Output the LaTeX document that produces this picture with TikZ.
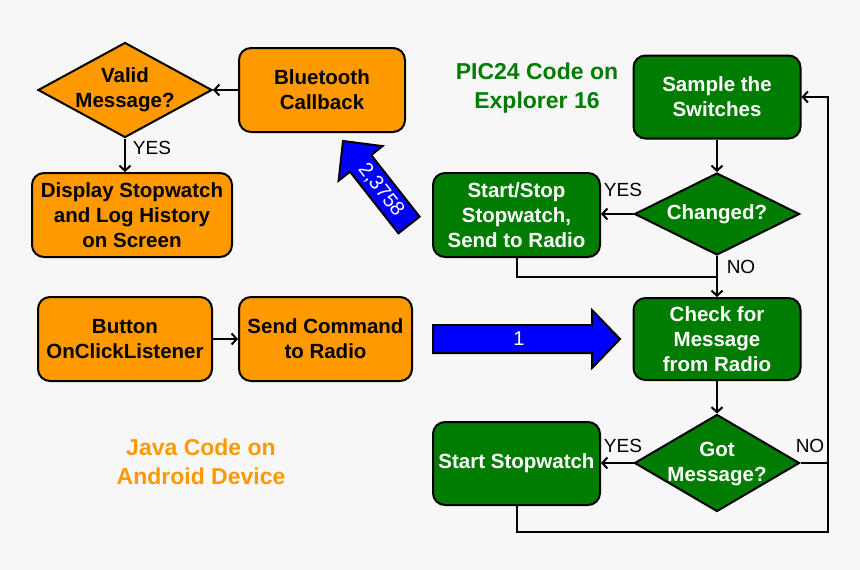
\documentclass[tikz,border=0pt]{standalone}
\usepackage{fontspec}
\setmainfont{Liberation Sans}
\usetikzlibrary{arrows.meta,shapes.geometric}
\definecolor{bg}{HTML}{F7F7F7}
\definecolor{org}{HTML}{FF9900}
\definecolor{grn}{HTML}{007C00}
\definecolor{blu}{HTML}{0000FF}
\begin{document}
\begin{tikzpicture}[x=1pt,y=-1pt,
 box/.style={draw=black, line width=2pt, rounded corners=12pt, align=center, font=\bfseries\fontsize{20.5}{25}\selectfont, inner sep=0pt},
 obox/.style={box, fill=org, text=black},
 gbox/.style={box, fill=grn, text=white},
 dia/.style={draw=black, line width=2pt, shape=diamond, inner sep=0pt},
 dtxt/.style={align=center, font=\bfseries\fontsize{20.5}{25}\selectfont, inner sep=0pt},
 lbl/.style={font=\fontsize{19}{22}\selectfont, inner sep=0pt},
 ttl/.style={align=center, font=\bfseries\fontsize{23}{29}\selectfont, inner sep=0pt},
 conn/.style={line width=2pt, -{Straight Barb[length=5pt,width=11pt]}},
 wire/.style={line width=2pt},
 bigarrow/.style={fill=blu, draw=black, line width=2pt, line join=miter},
 atxt/.style={text=white, font=\fontsize{20}{24}\selectfont, inner sep=0pt}
]
\fill[bg] (0,0) rectangle (860,570);
\useasboundingbox (0,0) rectangle (860,570);

% Android side
\node[dia, fill=org, minimum width=174pt, minimum height=95pt] (valid) at (125,90) {};
\node[dtxt, text=black] (validtxt) at (125,90) {Valid\\Message?};
\node[obox, minimum width=166pt, minimum height=84pt] (bt) at (322,90) {Bluetooth\\Callback};
\node[obox, minimum width=200pt, minimum height=84pt] (disp) at (132,215) {Display Stopwatch\\and Log History\\on Screen};
\node[obox, minimum width=174pt, minimum height=84pt] (btn) at (125,339) {Button\\OnClickListener};
\node[obox, minimum width=173pt, minimum height=84pt] (send) at (325.5,339) {Send Command\\to Radio};
\node[ttl, text=org] (java) at (201,462) {Java Code on\\Android Device};

\draw[conn] (bt.west) -- (valid.east);
\draw[conn] (valid.south) -- (valid.south |- disp.north);
\node[lbl] (yes1) at (152,148) {YES};
\draw[conn] (btn.east) -- (send.west);

% PIC24 side
\node[ttl, text=grn] (pic) at (537,88) {PIC24 Code on\\Explorer 16};
\node[gbox, minimum width=167pt, minimum height=83pt] (sample) at (717,97) {Sample the\\Switches};
\node[dia, fill=grn, minimum width=165pt, minimum height=82pt] (changed) at (717,214) {};
\node[dtxt, text=white] (changedtxt) at (717,214) {Changed?};
\node[gbox, minimum width=167pt, minimum height=84pt] (ss) at (516.5,215) {Start/Stop\\Stopwatch,\\Send to Radio};
\node[gbox, minimum width=167pt, minimum height=82pt] (check) at (717,339) {Check for\\Message\\from Radio};
\node[dia, fill=grn, minimum width=165pt, minimum height=97pt] (got) at (717,463) {};
\node[dtxt, text=white] (gottxt) at (717,464) {Got\\Message?};
\node[gbox, minimum width=167pt, minimum height=83pt] (sw) at (516.5,463.5) {Start Stopwatch};

\coordinate (j1) at (717,277);
\coordinate (c1) at (828,463);
\coordinate (c2) at (828,532);
\coordinate (c3) at (828,97);

\draw[conn] (sample.south) -- (changed.north);
\draw[conn] (changed.west) -- (changed.west -| ss.east);
\draw[wire] (ss.south) |- (j1);
\draw[conn] (changed.south) -- (check.north);
\draw[conn] (check.south) -- (got.north);
\draw[conn] (got.west) -- (got.west -| sw.east);
\draw[wire] (got.east) -- (c1);
\draw[conn] (sw.south) |- (c2) -- (c3) -- (sample.east);

\node[lbl] (yes2) at (623,190) {YES};
\node[lbl] (no2) at (741,267) {NO};
\node[lbl] (yes3) at (623,446) {YES};
\node[lbl] (no3) at (810,446) {NO};

% blue arrows
\draw[bigarrow] (433,325) -- (592,325) -- (592,310) -- (620,339) -- (592,368) -- (592,353) -- (433,353) -- cycle;
\node[atxt] (one) at (519,339) {1};
\draw[bigarrow] (343,141) -- (382.6,146.1) -- (371.2,155.1) -- (419.6,216.7) -- (398.4,233.3) -- (350.0,171.7) -- (338.6,180.7) -- cycle;
\node[atxt, rotate=-51.8] (two) at (381,190) {2,3758};
\end{tikzpicture}
\end{document}
